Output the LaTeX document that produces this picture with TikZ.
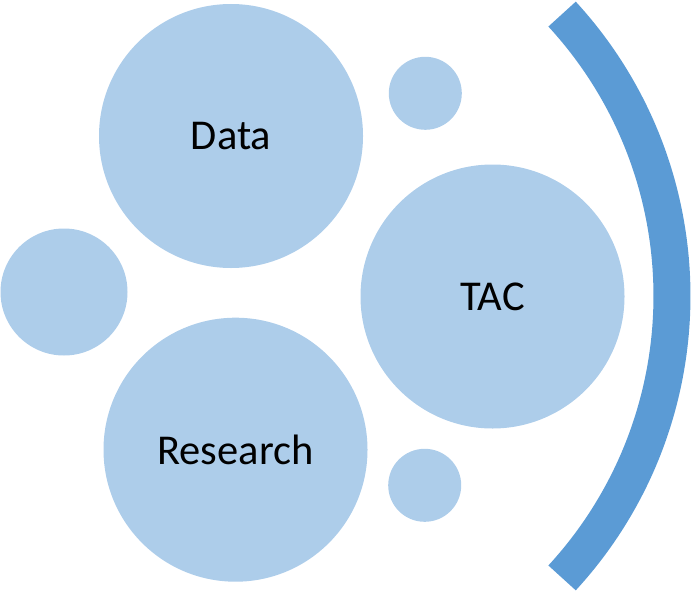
\documentclass[tikz,border=0pt]{standalone}
\usepackage{fontspec}
\setmainfont{Carlito}
\usetikzlibrary{calc}
\definecolor{bubblefill}{RGB}{173,205,234}
\definecolor{arcblue}{RGB}{91,155,213}
\begin{document}
\begin{tikzpicture}[x=1pt, y=-1pt, line cap=butt, line join=round,
  bubble/.style={circle, fill=bubblefill, inner sep=0pt, font=\fontsize{42.5}{50}\selectfont}]
  \def\Rbig{264pt}
  \def\Rmid{127pt}
  \def\Rsmall{73pt}

  % area
  \useasboundingbox (0,0) rectangle (692,591);

  % cerchi grandi
  \node[bubble, minimum size=\Rbig] (data) at (231,136) {Data};
  \node[bubble, minimum size=\Rbig] (tac) at (492.5,296.5) {TAC};
  \node[bubble, minimum size=\Rbig] (research) at (235.5,449.7) {Research};

  % cerchi piccoli
  \node[bubble, minimum size=\Rmid] (left) at (64,292) {};
  \node[bubble, minimum size=\Rsmall] (top) at (425.3,93.3) {};
  \node[bubble, minimum size=\Rsmall] (bottom) at (424.7,485.3) {};

  % arco
  \coordinate (O) at (255.5,296);
  \draw[arcblue, line width=37pt] ($(O)+(-42.6:416.5)$) arc[start angle=-42.6, end angle=42.6, radius=416.5];
\end{tikzpicture}
\end{document}
